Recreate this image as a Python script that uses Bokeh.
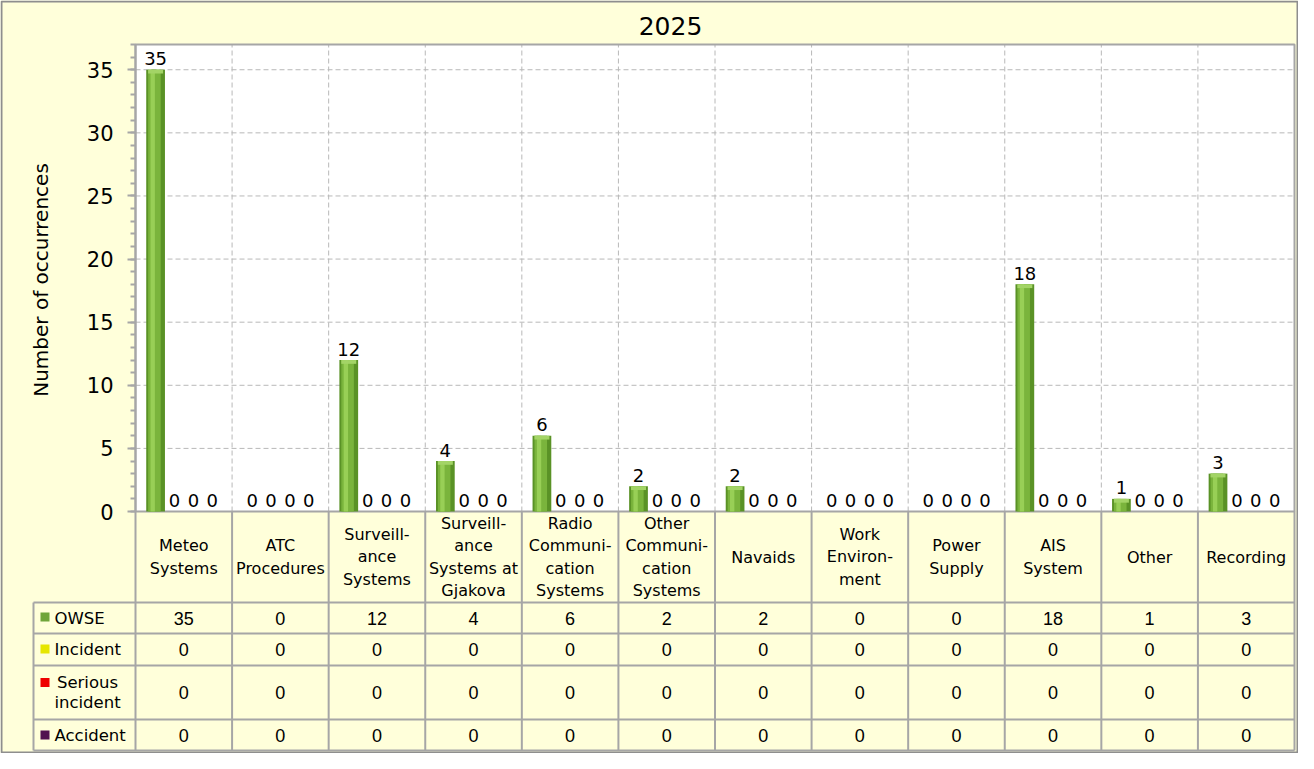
import math
from bokeh.plotting import figure
from bokeh.models import Range1d, LinearAxis, FixedTicker, ColumnDataSource
from bokeh.core.properties import value
from bokeh.embed import file_html
from bokeh.resources import INLINE

# ---------------- data ----------------
title = "2025"
y_label = "Number of occurrences"
categories = ["Meteo\nSystems", "ATC\nProcedures", "Surveill-\nance\nSystems",
              "Surveill-\nance\nSystems at\nGjakova", "Radio\nCommuni-\ncation\nSystems",
              "Other\nCommuni-\ncation\nSystems", "Navaids", "Work\nEnviron-\nment",
              "Power\nSupply", "AIS\nSystem", "Other", "Recording"]
series_names = ["OWSE", "Incident", "Serious\nincident", "Accident"]
owse = [35, 0, 12, 4, 6, 2, 2, 0, 0, 18, 1, 3]
incident = [0, 0, 0, 0, 0, 0, 0, 0, 0, 0, 0, 0]
serious_incident = [0, 0, 0, 0, 0, 0, 0, 0, 0, 0, 0, 0]
accident = [0, 0, 0, 0, 0, 0, 0, 0, 0, 0, 0, 0]
y_ticks = [0, 5, 10, 15, 20, 25, 30, 35]
y_max = 37
series = [owse, incident, serious_incident, accident]
series_colors = ["#6fa53a", "#e6e600", "#ee0000", "#521350"]

# ---------------- layout constants (pixels) ----------------
W, H = 1298, 753
OX, OY = 5, 5         # reference-pixel offset of the canvas
X0C = 135.0           # canvas x of the plot-area left edge
CW = (1294.0 - X0C) / 12   # pixels per category
PY = 467.0 / y_max    # pixels per unit


def hx(ref_x):
    return (ref_x - OX - X0C) / CW


def vy(ref_y):
    return (516.0 - ref_y) / PY


BG = "#ffffda"
LINE = "#a6a6a6"
FONT = value("DejaVu Sans")
FONT2 = value("Liberation Sans")

p = figure(width=W, height=H, output_backend="svg", toolbar_location=None,
           x_axis_location=None, y_axis_location=None, min_border=0,
           x_range=Range1d(hx(OX), hx(OX + W)),
           y_range=Range1d(vy(OY + H), vy(OY)))
p.outline_line_color = None
p.background_fill_color = BG
p.border_fill_color = BG
p.xgrid.grid_line_color = None
p.ygrid.grid_line_color = None

ncat = len(categories)
# outer border
p.quad(left=[hx(OX + 1)], right=[hx(OX + W - 1)], top=[vy(OY + 1)],
       bottom=[vy(OY + H - 1)], fill_color=None, line_color="#8e8e8e", line_width=2)
# plot area
p.quad(left=[0], right=[ncat], bottom=[0], top=[y_max], fill_color="white",
       line_color=None)
# grid lines
p.segment(x0=[0] * (len(y_ticks) - 1), x1=[ncat] * (len(y_ticks) - 1),
          y0=y_ticks[1:], y1=y_ticks[1:], line_color="#b8b8b8", line_width=1,
          line_dash="5 3")
p.segment(x0=list(range(1, ncat)), x1=list(range(1, ncat)), y0=[0] * (ncat - 1),
          y1=[y_max] * (ncat - 1), line_color="#b8b8b8", line_width=1, line_dash="5 3")
p.quad(left=[0], right=[ncat], bottom=[0], top=[y_max], fill_color=None,
       line_color=LINE, line_width=2)

# bars
slot = 0.1955
first = 0.208
bw = 0.194
for k, vals in enumerate(series):
    xs = [i + first + k * slot for i in range(ncat)]
    src = ColumnDataSource(dict(x=xs, top=vals, lab=[str(v) for v in vals],
                                cap=[max(0, v - 0.3) for v in vals]))
    if k == 0:
        p.vbar(x="x", top="top", bottom=0, width=bw, source=src,
               fill_color="#5a9226", line_color=None)
        src2 = ColumnDataSource(dict(x=[v - 0.012 for v in xs], top=vals))
        p.vbar(x="x", top="top", bottom=0, width=0.13, source=src2,
               fill_color="#7ab43c", line_color=None)
        src3 = ColumnDataSource(dict(x=[v - 0.03 for v in xs], top=vals))
        p.vbar(x="x", top="top", bottom=0, width=0.045, source=src3,
               fill_color="#98cf56", line_color=None)
        p.vbar(x="x", top="top", bottom="cap", width=bw * 0.8, source=src,
               fill_color="#a3d466", line_color=None)
    else:
        p.vbar(x="x", top="top", bottom=0, width=bw, source=src,
               fill_color=series_colors[k], line_color=None)
    p.text(x="x", y="top", text="lab", source=src, text_font=FONT,
           text_font_size="18px", text_align="center", text_baseline="alphabetic",
           y_offset=-11, text_color="black")

# y axis
ax = LinearAxis(fixed_location=0, bounds=(0, y_max),
                ticker=FixedTicker(ticks=y_ticks, minor_ticks=list(range(0, y_max + 1))))
ax.axis_line_color = LINE
ax.axis_line_width = 2
ax.major_tick_line_color = LINE
ax.major_tick_line_width = 2
ax.minor_tick_line_color = LINE
ax.minor_tick_line_width = 2
ax.major_tick_out = 8
ax.major_tick_in = 0
ax.minor_tick_out = 5
ax.minor_tick_in = 0
ax.major_label_text_font = "DejaVu Sans"
ax.major_label_text_font_size = "21px"
ax.major_label_text_color = "black"
ax.major_label_standoff = 14
p.add_layout(ax, "left")

# axis title and chart title
p.text(x=[hx(45.5)], y=[vy(284.5)], text=[y_label], angle=math.pi / 2,
       text_font=FONT, text_font_size="20px", text_align="center",
       text_baseline="middle", text_color="black")
p.text(x=[hx(675)], y=[vy(30)], text=[title], text_font=FONT,
       text_font_size="25px", text_align="center", text_baseline="middle",
       text_color="black")

# data table
row_lines = [607, 638, 670, 724, 755]
row_centers = [622.5, 654, 697, 739.5]
p.segment(x0=list(range(0, ncat + 1)), x1=list(range(0, ncat + 1)),
          y0=[vy(516)] * (ncat + 1), y1=[vy(755)] * (ncat + 1),
          line_color=LINE, line_width=2)
p.segment(x0=[hx(38)], x1=[hx(38)], y0=[vy(607)], y1=[vy(755)],
          line_color=LINE, line_width=2)
p.segment(x0=[hx(38)] * len(row_lines), x1=[ncat] * len(row_lines),
          y0=[vy(r) for r in row_lines], y1=[vy(r) for r in row_lines],
          line_color=LINE, line_width=2)

p.text(x=[i + 0.5 for i in range(ncat)], y=[vy(561.5)] * ncat, text=categories,
       text_font=FONT, text_font_size="16px", text_align="center",
       text_baseline="middle", text_line_height=1.18, text_color="black")
for k, vals in enumerate(series):
    p.text(x=[i + 0.5 for i in range(ncat)], y=[vy(row_centers[k])] * ncat,
           text=[str(v) for v in vals], text_font=FONT2, text_font_size="18px",
           text_align="center", text_baseline="middle", text_color="black")

marker_y = [621.5, 653.5, 687, 739.5]
p.rect(x=[hx(49.5)] * 4, y=[vy(m) for m in marker_y], width=9, height=9,
       width_units="screen", height_units="screen", fill_color=series_colors,
       line_color=None)
for k, name in enumerate(series_names):
    if "\n" in name:
        p.text(x=[hx(92)], y=[vy(row_centers[k])], text=[name], text_font=FONT,
               text_font_size="16.5px", text_align="center", text_baseline="middle",
               text_line_height=1.1, text_color="black")
    else:
        p.text(x=[hx(59)], y=[vy(row_centers[k])], text=[name], text_font=FONT,
               text_font_size="16.5px", text_align="left", text_baseline="middle",
               text_color="black")

open("out.html", "w").write(file_html(p, INLINE))
